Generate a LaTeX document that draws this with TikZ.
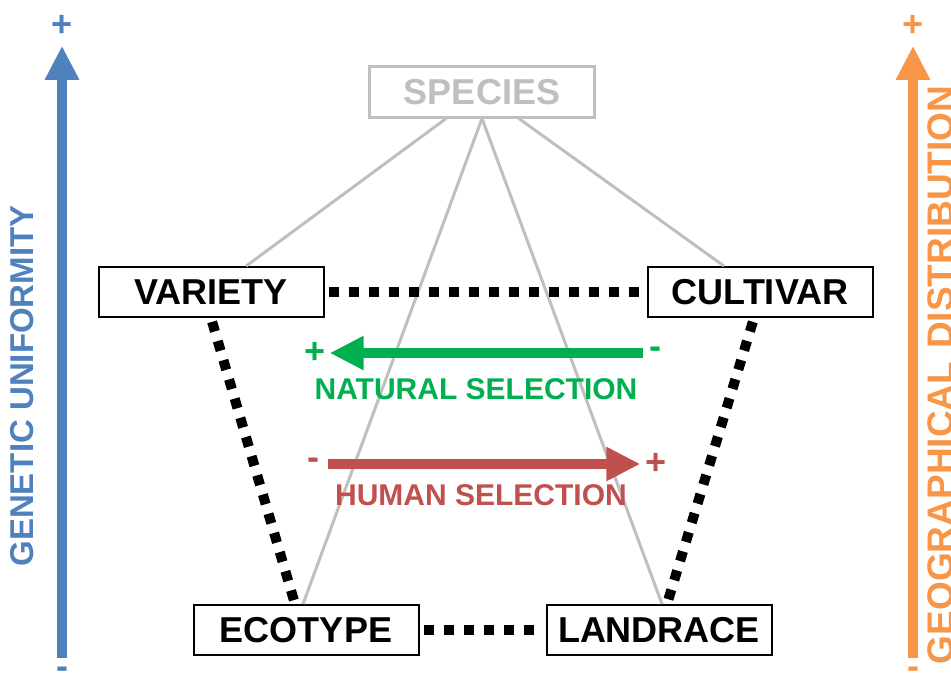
\documentclass[tikz,border=0pt]{standalone}
\usepackage{fontspec}
\setmainfont{Liberation Sans}
\usetikzlibrary{arrows.meta}

\definecolor{uniblue}{HTML}{4F81BD}
\definecolor{distorange}{HTML}{F79646}
\definecolor{natgreen}{HTML}{00B050}
\definecolor{humred}{HTML}{C0504D}
\definecolor{taxgray}{HTML}{BFBFBF}

\newcommand{\rankfont}{\bfseries\fontsize{36}{36}\selectfont}
\newcommand{\selfont}{\bfseries\fontsize{30}{30}\selectfont}
\newcommand{\signfont}{\bfseries\fontsize{36}{36}\selectfont}
\newcommand{\axisfont}{\bfseries\fontsize{33}{33}\selectfont}

\begin{document}
\begin{tikzpicture}[x=1pt,y=-1pt,
  rank/.style={draw,line width=2pt,fill=white,minimum width=225pt,minimum height=50pt,inner sep=0pt,font=\rankfont},
  link/.style={taxgray,line width=3pt},
  kin/.style={line width=10pt,dash pattern=on 10pt off 10pt,shorten <=4pt,shorten >=4pt},
  sign/.style={inner sep=0pt,anchor=center,font=\signfont},
  fat/.style={line width=10pt,-{Triangle[width=32pt,length=34pt]}}]
\useasboundingbox (0,0) rectangle (951,677);
\clip (0,0) rectangle (951,677);

% ranks
\node[rank,draw=taxgray,line width=3pt,text=taxgray] (species) at (482,92) {SPECIES};
\node[rank] (variety) at (211,292) {VARIETY};
\node[rank] (cultivar) at (760,292) {CULTIVAR};
\node[rank] (ecotype) at (306,630) {ECOTYPE};
\node[rank] (landrace) at (659,630) {LANDRACE};

% species links
\draw[link] (species) -- (variety);
\draw[link] (species) -- (cultivar);
\draw[link] (species.south) -- ([xshift=-3pt]ecotype.north);
\draw[link] (species.south) -- ([xshift=3pt]landrace.north);

% kinship
\draw[kin] (variety.east) -- (cultivar.west);
\draw[kin] (ecotype.east) -- (landrace.west);
\draw[kin] (variety.south) -- ([xshift=-11pt]ecotype.north);
\draw[kin] ([xshift=-6pt]cultivar.south) -- ([xshift=8pt]landrace.north);

% selection arrows
\node[sign,text=natgreen] (natplus) at (315,353) {+};
\node[sign,text=natgreen] (natminus) at (655,353) {-};
\draw[fat,natgreen,shorten <=6pt,shorten >=4pt] (natminus) -- (natplus);
\node[text=natgreen,font=\selfont] (natlabel) at (476,389) {NATURAL SELECTION};

\node[sign,text=humred] (humminus) at (313,464) {-};
\node[sign,text=humred] (humplus) at (656,464) {+};
\draw[fat,humred,shorten <=9pt,shorten >=5pt] (humminus) -- (humplus);
\node[text=humred,font=\selfont] (humlabel) at (481,495) {HUMAN SELECTION};

% side axes
\node[sign,text=uniblue] (uniplus) at (62,26) {+};
\node[sign,text=uniblue] (uniminus) at (62,673) {-};
\draw[fat,uniblue,shorten <=9pt,shorten >=9pt] (uniminus) -- (uniplus);
\node[rotate=90,text=uniblue,font=\axisfont] (unilabel) at (22,386) {GENETIC UNIFORMITY};

\node[sign,text=distorange] (distplus) at (913,26) {+};
\node[sign,text=distorange] (distminus) at (913,673) {-};
\draw[fat,distorange,shorten <=9pt,shorten >=9pt] (distminus) -- (distplus);
\node[rotate=90,text=distorange,font=\bfseries\fontsize{37}{37}\selectfont] (distlabel) at (941,375) {GEOGRAPHICAL\hspace{0.35em}DISTRIBUTION};
\end{tikzpicture}
\end{document}
